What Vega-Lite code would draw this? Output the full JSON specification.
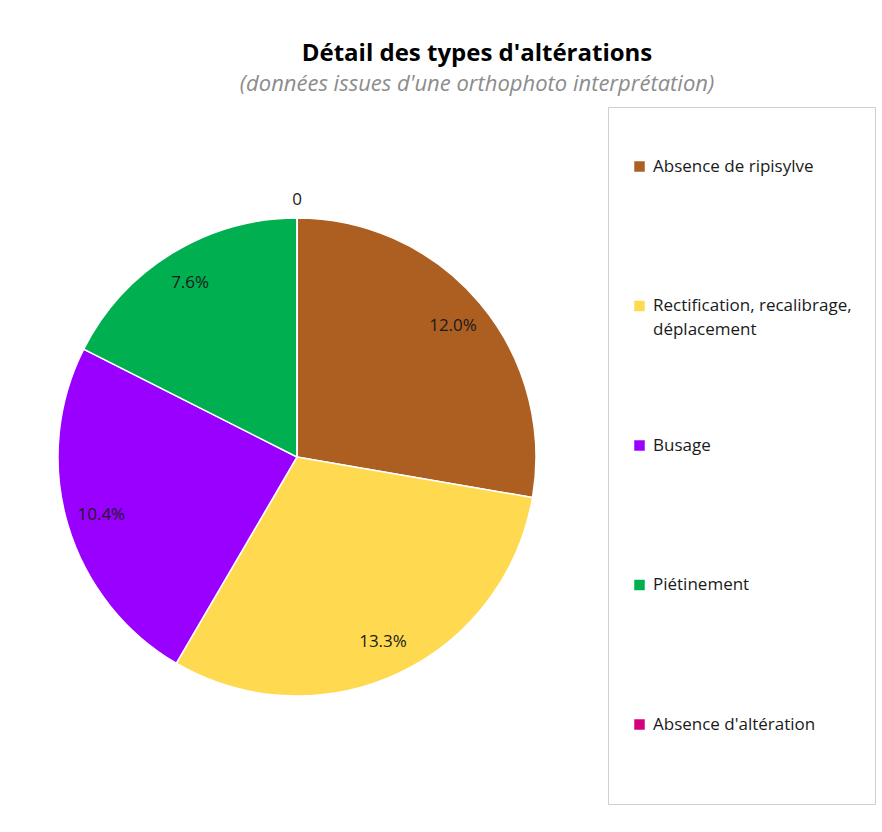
{
  "$schema": "https://vega.github.io/schema/vega-lite/v6.json",
  "autosize": {"type": "none"},
  "width": 594,
  "height": 714,
  "padding": {"left": 0, "top": 100, "right": 288, "bottom": 18},
  "background": "white",
  "config": {
    "view": {"stroke": null},
    "font": "Open Sans",
    "style": {"guide-label": {"lineHeight": 24}}
  },
  "title": {
    "text": "Détail des types d'altérations",
    "subtitle": "(données issues d'une orthophoto interprétation)",
    "anchor": "middle",
    "dx": 180,
    "offset": 5,
    "font": "Open Sans",
    "fontSize": 24,
    "fontWeight": "bold",
    "color": "#000000",
    "subtitleFont": "Open Sans",
    "subtitleFontSize": 22,
    "subtitleFontStyle": "italic",
    "subtitleColor": "#8c8c8c",
    "subtitlePadding": 8
  },
  "data": {
    "values": [
      {"type": "Absence de ripisylve", "valeur": 12.0, "etiquette": "12.0%", "ordre": 1},
      {"type": "Rectification, recalibrage, déplacement", "valeur": 13.3, "etiquette": "13.3%", "ordre": 2},
      {"type": "Busage", "valeur": 10.4, "etiquette": "10.4%", "ordre": 3},
      {"type": "Piétinement", "valeur": 7.6, "etiquette": "7.6%", "ordre": 4},
      {"type": "Absence d'altération", "valeur": 0, "etiquette": "0", "ordre": 5}
    ]
  },
  "encoding": {
    "theta": {"field": "valeur", "type": "quantitative", "stack": true},
    "order": {"field": "ordre", "type": "quantitative"},
    "color": {
      "field": "type",
      "type": "nominal",
      "sort": null,
      "scale": {
        "domain": ["Absence de ripisylve", "Rectification, recalibrage, déplacement", "Busage", "Piétinement", "Absence d'altération"],
        "range": ["#AD5F22", "#FFDA50", "#9900FF", "#00B050", "#D6007E"]
      },
      "legend": {
        "orient": "none",
        "legendX": 608,
        "legendY": 7,
        "title": " ",
        "titleFontSize": 14,
        "titlePadding": 14,
        "padding": 23,
        "strokeColor": "#d0d0d0",
        "fillColor": "white",
        "symbolType": "square",
        "symbolSize": 110,
        "symbolStrokeWidth": 0,
        "labelFont": "Open Sans",
        "labelFontSize": 17,
        "labelColor": "#1a1a1a",
        "labelLimit": 300,
        "labelOffset": 5,
        "rowPadding": 73.5,
        "labelBaseline": "middle",
        "labelExpr": "datum.label === 'Rectification, recalibrage, déplacement' ? ['Rectification, recalibrage,', 'déplacement', ' '] : [datum.label, ' ', ' ']"
      }
    }
  },
  "layer": [
    {
      "mark": {"type": "arc", "radius": 239, "stroke": "white", "strokeWidth": 1.5}
    },
    {
      "transform": [{"filter": "datum.valeur > 0"}],
      "mark": {"type": "text", "radius": 204, "fontSize": 17, "font": "Open Sans", "color": "#1a1a1a"},
      "encoding": {
        "text": {"field": "etiquette", "type": "nominal"},
        "color": {"value": "#1a1a1a"}
      }
    },
    {
      "transform": [{"filter": "datum.valeur == 0"}],
      "mark": {"type": "text", "radius": 257, "fontSize": 17, "font": "Open Sans", "color": "#1a1a1a"},
      "encoding": {
        "text": {"field": "etiquette", "type": "nominal"},
        "color": {"value": "#1a1a1a"}
      }
    }
  ]
}
